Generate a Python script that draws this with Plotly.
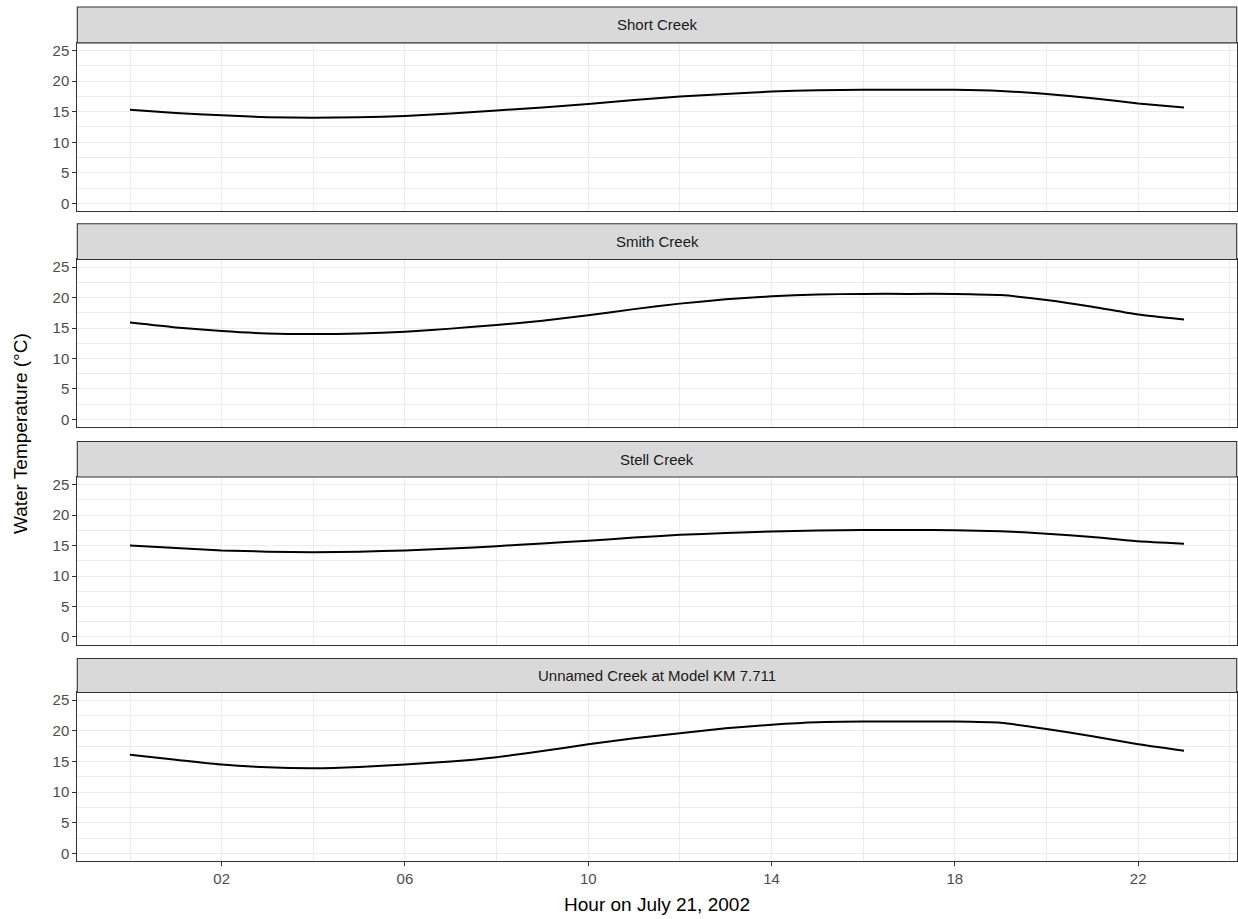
import plotly.graph_objects as go

hours = list(range(24))
creeks = ["Short Creek", "Smith Creek", "Stell Creek", "Unnamed Creek at Model KM 7.711"]
short_creek = [15.3, 14.8, 14.4, 14.1, 14.0, 14.1, 14.3, 14.7, 15.2, 15.7, 16.25, 16.9,
               17.5, 17.9, 18.3, 18.5, 18.6, 18.6, 18.6, 18.4, 17.9, 17.2, 16.35, 15.7]
smith_creek = [15.9, 15.1, 14.5, 14.1, 14.0, 14.1, 14.4, 14.9, 15.5, 16.2, 17.1, 18.1,
               19.0, 19.7, 20.2, 20.5, 20.6, 20.6, 20.6, 20.4, 19.6, 18.5, 17.2, 16.4]
stell_creek = [15.0, 14.6, 14.2, 14.0, 13.9, 14.0, 14.2, 14.5, 14.9, 15.35, 15.8, 16.3,
               16.75, 17.05, 17.3, 17.45, 17.55, 17.55, 17.5, 17.35, 16.95, 16.4, 15.7, 15.3]
unnamed_creek = [16.1, 15.3, 14.5, 14.05, 13.9, 14.1, 14.5, 15.0, 15.7, 16.7, 17.8, 18.8,
                 19.6, 20.4, 21.0, 21.4, 21.5, 21.5, 21.5, 21.3, 20.3, 19.1, 17.8, 16.75]
series = [short_creek, smith_creek, stell_creek, unnamed_creek]

x_tickvals = [2, 6, 10, 14, 18, 22]
x_ticktext = ["02", "06", "10", "14", "18", "22"]
x_minor = [0, 4, 8, 12, 16, 20, 24]
y_tickvals = [0, 5, 10, 15, 20, 25]
y_minor = [2.5, 7.5, 12.5, 17.5, 22.5]

W, H = 1238, 919
# pixel layout (top, bottom) of each panel and strip
panels = [(42, 210.5), (259, 427), (477, 645), (693, 862)]
strips = [(6, 42), (223.3, 259), (441.5, 477), (659, 693)]
xl, xr = 77.3, 1236.7

def fy(p):
    return 1 - p / H

fig = go.Figure()
font = "Arial, Liberation Sans, sans-serif"
for i, (name, vals) in enumerate(zip(creeks, series)):
    n = "" if i == 0 else str(i + 1)
    fig.add_trace(go.Scatter(x=hours, y=vals, mode="lines",
                             line=dict(color="black", width=2, shape="spline", smoothing=0.5),
                             xaxis="x" + n, yaxis="y" + n, showlegend=False))
    top, bot = panels[i]
    last = i == len(creeks) - 1
    fig.update_layout(**{
        "xaxis" + n: dict(domain=[xl / W, xr / W], range=[-1.15, 24.15],
                          anchor="y" + n, tickvals=x_tickvals, ticktext=x_ticktext,
                          showticklabels=last, ticks="outside" if last else "",
                          ticklen=4, tickcolor="#333333", tickwidth=1.1,
                          tickfont=dict(family=font, size=15, color="#4D4D4D"),
                          showgrid=True, gridcolor="#EBEBEB", gridwidth=1.2,
                          minor=dict(tickvals=x_minor, showgrid=True, gridcolor="#EBEBEB", gridwidth=0.6),
                          showline=True, mirror=True, linecolor="#333333", linewidth=1.1,
                          zeroline=False, fixedrange=True,
                          title=dict(text="Hour on July 21, 2002", standoff=11,
                                     font=dict(family=font, size=19, color="black")) if last else None),
        "yaxis" + n: dict(domain=[fy(bot), fy(top)], range=[-1.25, 26.25],
                          anchor="x" + n, tickvals=y_tickvals,
                          ticks="outside", ticklen=4, tickcolor="#333333", tickwidth=1.1,
                          tickfont=dict(family=font, size=15, color="#4D4D4D"),
                          showgrid=True, gridcolor="#EBEBEB", gridwidth=1.2,
                          minor=dict(tickvals=y_minor, showgrid=True, gridcolor="#EBEBEB", gridwidth=0.6),
                          showline=True, mirror=True, linecolor="#333333", linewidth=1.1,
                          zeroline=False, fixedrange=True),
    })
    st, sb = strips[i]
    fig.add_shape(type="rect", xref="paper", yref="paper", x0=xl / W, x1=xr / W,
                  y0=fy(sb), y1=fy(st), fillcolor="#D9D9D9",
                  line=dict(color="#333333", width=1.1), layer="above")
    fig.add_annotation(text=name, xref="paper", yref="paper", x=(xl + xr) / 2 / W,
                       y=fy((st + sb) / 2), showarrow=False, xanchor="center", yanchor="middle",
                       font=dict(family=font, size=15, color="#1A1A1A"))

fig.add_annotation(text="Water Temperature (°C)", xref="paper", yref="paper",
                   x=20 / W, y=fy(434), textangle=-90, showarrow=False,
                   xanchor="center", yanchor="middle",
                   font=dict(family=font, size=19, color="black"))

fig.update_layout(width=W, height=H, margin=dict(l=0, r=0, t=0, b=0),
                  paper_bgcolor="white", plot_bgcolor="white")
fig.write_html("out.html", config={"displayModeBar": False},
               post_script="document.body.style.margin='0';document.body.style.overflow='hidden';")
